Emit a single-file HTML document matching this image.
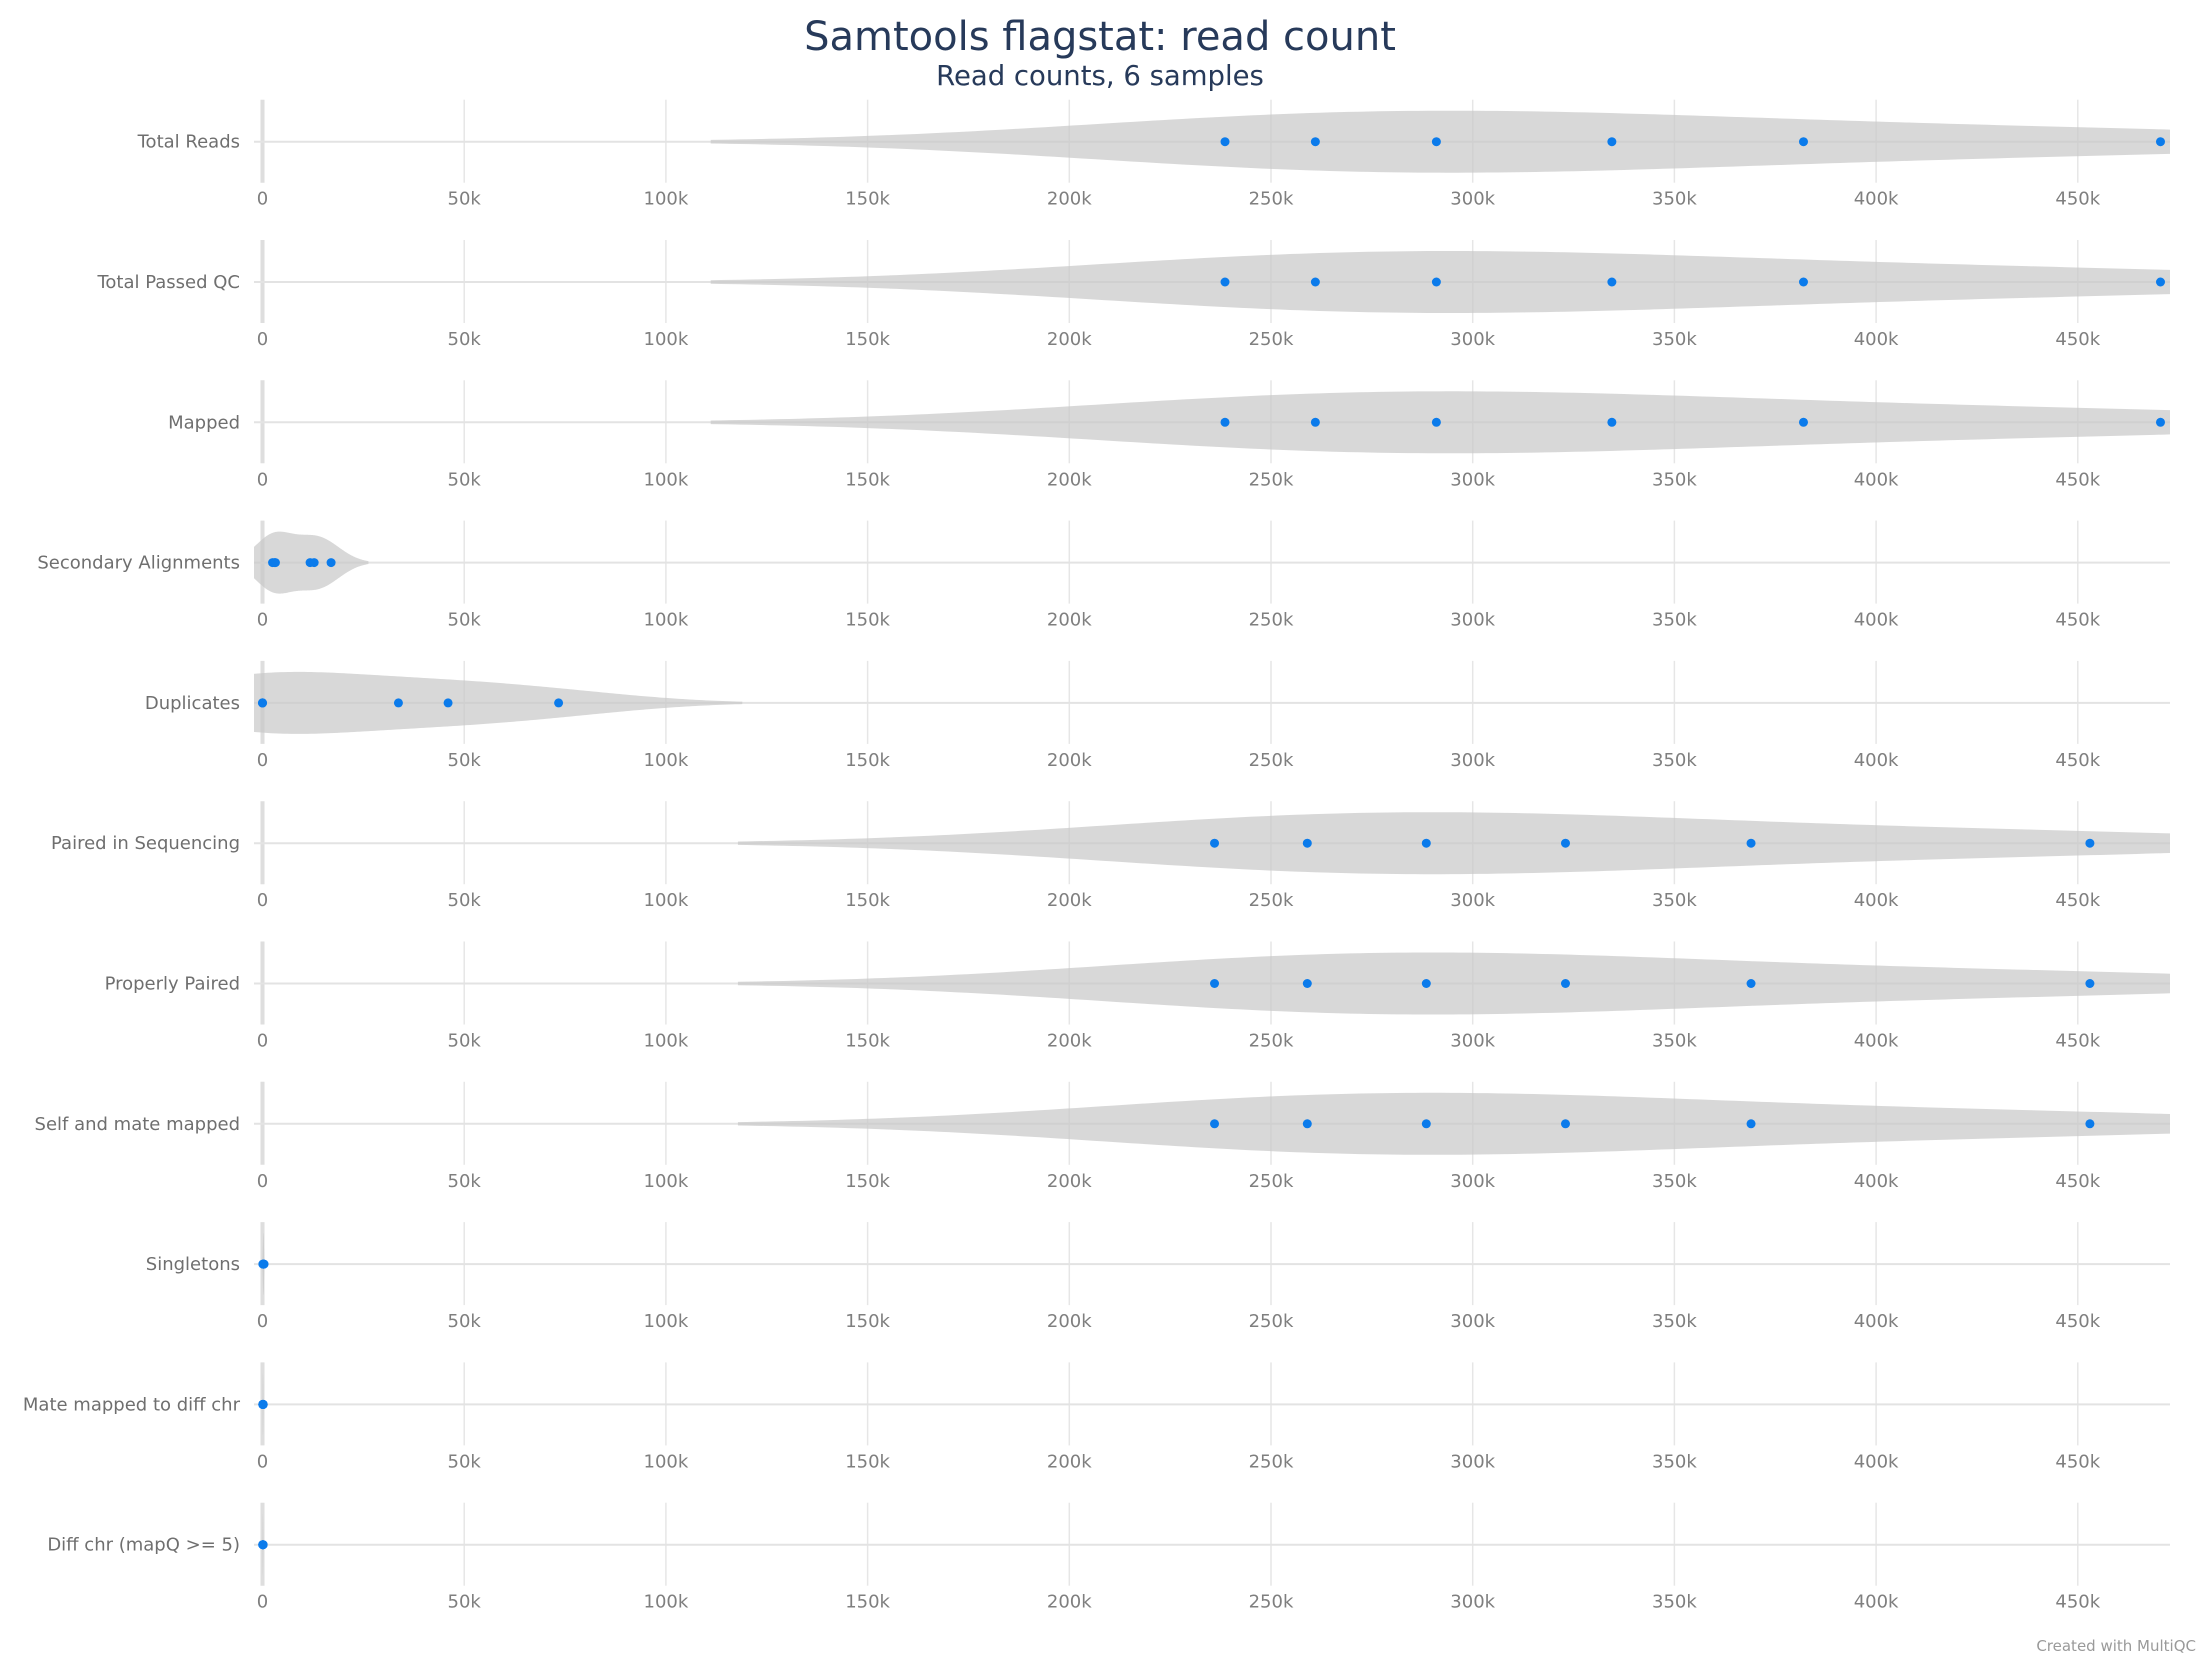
<!DOCTYPE html>
<html><head><meta charset="utf-8"><style>
html,body{margin:0;padding:0;background:#fff}
svg{display:block;font-family:"DejaVu Sans","Liberation Sans",sans-serif}
</style></head><body>
<svg id="chart" width="2200" height="1666" viewBox="0 0 2200 1666" xmlns="http://www.w3.org/2000/svg">
<text x="1100" y="50" text-anchor="middle" font-size="40" fill="#273a5a">Samtools flagstat: read count</text>
<text x="1100" y="85" text-anchor="middle" font-size="27.5" fill="#273a5a">Read counts, 6 samples</text>
<text x="2196" y="1651" text-anchor="end" font-size="15" fill="#9a9a9a">Created with MultiQC</text>
<g id="rows"></g>
</svg>
<script>
const categories = ["Total Reads","Total Passed QC","Mapped","Secondary Alignments","Duplicates","Paired in Sequencing","Properly Paired","Self and mate mapped","Singletons","Mate mapped to diff chr","Diff chr (mapQ >= 5)"];
const totalReads = [238600,261000,291000,334500,382000,470500];
const totalPassedQC = [238600,261000,291000,334500,382000,470500];
const mapped = [238600,261000,291000,334500,382000,470500];
const secondary = [2500,3000,3200,11800,12800,17000];
const duplicates = [0,0,0,33700,46000,73400];
const pairedSeq = [236000,259000,288500,323000,369000,453000];
const properlyPaired = [236000,259000,288500,323000,369000,453000];
const selfMate = [236000,259000,288500,323000,369000,453000];
const singletons = [100,150,200,260,300,380];
const mateDiff = [60,80,100,130,150,190];
const diffChrQ5 = [50,70,90,110,130,160];
const series = [totalReads,totalPassedQC,mapped,secondary,duplicates,pairedSeq,properlyPaired,selfMate,singletons,mateDiff,diffChrQ5];
const tickValues = [0,50000,100000,150000,200000,250000,300000,350000,400000,450000];
const tickLabels = ["0","50k","100k","150k","200k","250k","300k","350k","400k","450k"];

const X0=262.5, PX_PER=201.7/50000, XL=254, XR=2170;
const x = v => X0 + v*PX_PER;
const ROW0=141.7, ROWH=140.3, HALF=31;
const NS="http://www.w3.org/2000/svg";
const g=document.getElementById('rows');
function mk(tag,attrs,parent){const e=document.createElementNS(NS,tag);for(const k in attrs)e.setAttribute(k,attrs[k]);(parent||g).appendChild(e);return e;}
const defs=mk('defs',{});
const cp=mk('clipPath',{id:'plotclip'},defs);
mk('rect',{x:XL,y:0,width:XR-XL,height:1666},cp);

categories.forEach((cat,i)=>{
  const cy=ROW0+i*ROWH;
  const row=mk('g',{});
  
  
  tickValues.forEach((t,j)=>{
    const gl=mk('line',{x1:x(t),x2:x(t),y1:cy-42,y2:cy+41,stroke:j===0?'#dedede':'#e6e6e6','stroke-width':j===0?4:1.5},row);
    
    
    const tl=mk('text',{x:x(t),y:cy+63,'text-anchor':'middle','font-size':18,fill:'#7f7f7f'},row);
    tl.textContent=tickLabels[j];
    
    
  });
  const base=mk('line',{x1:XL,x2:XR,y1:cy,y2:cy,stroke:'#e3e3e3','stroke-width':2},row);
  
  
  const lab=mk('text',{x:240,y:cy+6,'text-anchor':'end','font-size':18,fill:'#6f6f6f'},row);
  lab.textContent=cat;
  
  
  const d=series[i], n=d.length;
  const mean=d.reduce((a,b)=>a+b,0)/n;
  const sd=Math.sqrt(d.reduce((a,b)=>a+(b-mean)*(b-mean),0)/(n-1));
  const bw=Math.max(1.059*sd*Math.pow(n,-0.2),1);
  const lo=Math.min(...d)-2*bw, hi=Math.max(...d)+2*bw;
  const N=200, pts=[];
  let maxd=0;
  for(let k=0;k<=N;k++){const v=lo+(hi-lo)*k/N;let s=0;d.forEach(p=>{const z=(v-p)/bw;s+=Math.exp(-0.5*z*z);});pts.push([v,s]);if(s>maxd)maxd=s;}
  let path='M'+pts.map(p=>x(p[0]).toFixed(2)+','+(cy-p[1]/maxd*HALF).toFixed(2)).join(' L');
  path+=' L'+pts.slice().reverse().map(p=>x(p[0]).toFixed(2)+','+(cy+p[1]/maxd*HALF).toFixed(2)).join(' L')+' Z';
  const vio=mk('path',{d:path,fill:'#c8c8c8','fill-opacity':0.7,'clip-path':'url(#plotclip)'},row);
  
  
  d.forEach(v=>{
    const c=mk('circle',{cx:x(v),cy:cy,r:4.5,fill:'#0b7beb'},row);
    
    
  });
});
</script>
</body></html>
